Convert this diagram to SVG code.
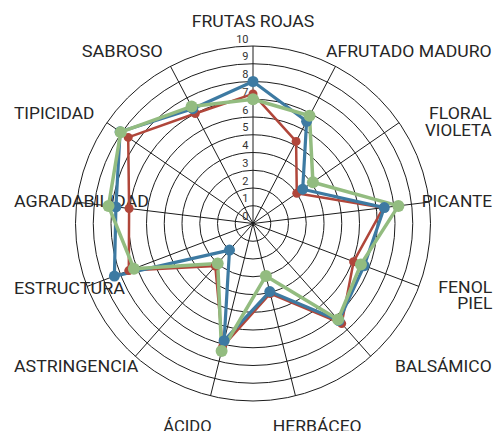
<svg xmlns="http://www.w3.org/2000/svg" width="493" height="431" viewBox="0 0 493 431">
<style>
.ring{fill:none;stroke:#1c1c1c;stroke-width:1}
.axis{stroke:#1c1c1c;stroke-width:1}
.lbl{font-family:Roboto,"Liberation Sans",sans-serif;font-size:16px;fill:#262626}
.tick{font-family:Roboto,"Liberation Sans",sans-serif;font-size:11px;fill:#333;text-anchor:end}
.red{fill:none;stroke:#b0463a;stroke-width:2.5;stroke-linejoin:round}
.blue{fill:none;stroke:#3d7aa2;stroke-width:3.2;stroke-linejoin:round}
.green{fill:none;stroke:#93bc80;stroke-width:3.5;stroke-linejoin:round}
.rd{fill:#b0463a}
.bd{fill:#3d7aa2}
.gd{fill:#93bc80}
</style>
<rect width="493" height="431" fill="#ffffff"/>
<g id="grid">
<circle class="ring" cx="253" cy="223.5" r="17.75"/>
<circle class="ring" cx="253" cy="223.5" r="35.5"/>
<circle class="ring" cx="253" cy="223.5" r="53.25"/>
<circle class="ring" cx="253" cy="223.5" r="71"/>
<circle class="ring" cx="253" cy="223.5" r="88.75"/>
<circle class="ring" cx="253" cy="223.5" r="106.5"/>
<circle class="ring" cx="253" cy="223.5" r="124.25"/>
<circle class="ring" cx="253" cy="223.5" r="142"/>
<circle class="ring" cx="253" cy="223.5" r="159.75"/>
<circle class="ring" cx="253" cy="223.5" r="177.5"/>
</g>
<g id="axes">
<line class="axis" x1="253" y1="223.5" x2="253" y2="46"/>
<line class="axis" x1="253" y1="223.5" x2="335.49" y2="66.33"/>
<line class="axis" x1="253" y1="223.5" x2="399.08" y2="122.67"/>
<line class="axis" x1="253" y1="223.5" x2="429.21" y2="202.1"/>
<line class="axis" x1="253" y1="223.5" x2="418.97" y2="286.44"/>
<line class="axis" x1="253" y1="223.5" x2="370.7" y2="356.36"/>
<line class="axis" x1="253" y1="223.5" x2="295.48" y2="395.84"/>
<line class="axis" x1="253" y1="223.5" x2="210.52" y2="395.84"/>
<line class="axis" x1="253" y1="223.5" x2="135.3" y2="356.36"/>
<line class="axis" x1="253" y1="223.5" x2="87.03" y2="286.44"/>
<line class="axis" x1="253" y1="223.5" x2="76.79" y2="202.1"/>
<line class="axis" x1="253" y1="223.5" x2="106.92" y2="122.67"/>
<line class="axis" x1="253" y1="223.5" x2="170.51" y2="66.33"/>
</g>
<g id="ticks">
<text class="tick" x="248.5" y="220">0</text>
<text class="tick" x="248.5" y="202.3">1</text>
<text class="tick" x="248.5" y="184.5">2</text>
<text class="tick" x="248.5" y="166.8">3</text>
<text class="tick" x="248.5" y="149">4</text>
<text class="tick" x="248.5" y="131.3">5</text>
<text class="tick" x="248.5" y="113.5">6</text>
<text class="tick" x="248.5" y="95.8">7</text>
<text class="tick" x="248.5" y="78">8</text>
<text class="tick" x="248.5" y="60.3">9</text>
<text class="tick" x="248.5" y="42.5">10</text>
</g>
<g id="labels">
<text class="lbl" x="191.7" y="27" textLength="122.6" lengthAdjust="spacingAndGlyphs">FRUTAS ROJAS</text>
<text class="lbl" x="326" y="56.5" textLength="165.7" lengthAdjust="spacingAndGlyphs">AFRUTADO MADURO</text>
<text class="lbl" x="81.7" y="57" textLength="81" lengthAdjust="spacingAndGlyphs">SABROSO</text>
<text class="lbl" x="429" y="119" textLength="62.7" lengthAdjust="spacingAndGlyphs">FLORAL</text>
<text class="lbl" x="425" y="136" textLength="66.7" lengthAdjust="spacingAndGlyphs">VIOLETA</text>
<text class="lbl" x="14" y="119" textLength="80.3" lengthAdjust="spacingAndGlyphs">TIPICIDAD</text>
<text class="lbl" x="421.7" y="206.5" textLength="70.5" lengthAdjust="spacingAndGlyphs">PICANTE</text>
<text class="lbl" x="14" y="207" textLength="135" lengthAdjust="spacingAndGlyphs">AGRADABILIDAD</text>
<text class="lbl" x="438.3" y="293" textLength="54" lengthAdjust="spacingAndGlyphs">FENOL</text>
<text class="lbl" x="457.3" y="309.3" textLength="35" lengthAdjust="spacingAndGlyphs">PIEL</text>
<text class="lbl" x="14" y="293.5" textLength="111" lengthAdjust="spacingAndGlyphs">ESTRUCTURA</text>
<text class="lbl" x="395" y="371.5" textLength="96.7" lengthAdjust="spacingAndGlyphs">BALSÁMICO</text>
<text class="lbl" x="14" y="371.5" textLength="124.3" lengthAdjust="spacingAndGlyphs">ASTRINGENCIA</text>
<text class="lbl" x="163.3" y="431.5" textLength="48.4" lengthAdjust="spacingAndGlyphs">ÁCIDO</text>
<text class="lbl" x="272.7" y="431.5" textLength="89" lengthAdjust="spacingAndGlyphs">HERBÁCEO</text>
</g>
<g id="connectors">
<polygon class="red" points="253,93.9 296.1,141.4 296.8,193.3 383.4,207.7 353.6,261.7 341.7,323.6 270.3,293.5 222.6,346.7 215.3,266 128.8,270.6 129.1,208.5 128.2,137.4 195.3,113.5"/>
<polygon class="blue" points="253,81.5 306.6,121.3 302.7,189.2 384.3,207.6 364.2,265.7 338.9,320.5 269.8,291.6 224.1,340.7 229.5,250.1 114.4,276.1 115.9,206.9 120.1,131.8 192.8,108.7"/>
<polygon class="green" points="253,99.25 309.5,115.8 312.9,182.2 398.4,205.9 360.9,264.4 338.1,319.5 265.9,275.9 221.6,351 217.7,263.4 133.9,268.7 108.5,206 120.7,132.2 191.6,106.4"/>
</g>
<g id="series-red">
<circle class="rd" cx="253" cy="93.9" r="4.5"/>
<circle class="rd" cx="296.1" cy="141.4" r="4.5"/>
<circle class="rd" cx="296.8" cy="193.3" r="4.5"/>
<circle class="rd" cx="383.4" cy="207.7" r="4.5"/>
<circle class="rd" cx="353.6" cy="261.7" r="4.5"/>
<circle class="rd" cx="341.7" cy="323.6" r="4.5"/>
<circle class="rd" cx="270.3" cy="293.5" r="4.5"/>
<circle class="rd" cx="222.6" cy="346.7" r="4.5"/>
<circle class="rd" cx="215.3" cy="266" r="4.5"/>
<circle class="rd" cx="128.8" cy="270.6" r="4.5"/>
<circle class="rd" cx="129.1" cy="208.5" r="4.5"/>
<circle class="rd" cx="128.2" cy="137.4" r="4.5"/>
<circle class="rd" cx="195.3" cy="113.5" r="4.5"/>
</g>
<g id="series-blue">
<circle class="bd" cx="253" cy="81.5" r="5.5"/>
<circle class="bd" cx="306.6" cy="121.3" r="5.5"/>
<circle class="bd" cx="302.7" cy="189.2" r="5.5"/>
<circle class="bd" cx="384.3" cy="207.6" r="5.5"/>
<circle class="bd" cx="364.2" cy="265.7" r="5.5"/>
<circle class="bd" cx="338.9" cy="320.5" r="5.5"/>
<circle class="bd" cx="269.8" cy="291.6" r="5.5"/>
<circle class="bd" cx="224.1" cy="340.7" r="5.5"/>
<circle class="bd" cx="229.5" cy="250.1" r="5.5"/>
<circle class="bd" cx="114.4" cy="276.1" r="5.5"/>
<circle class="bd" cx="115.9" cy="206.9" r="5.5"/>
<circle class="bd" cx="120.1" cy="131.8" r="5.5"/>
<circle class="bd" cx="192.8" cy="108.7" r="5.5"/>
</g>
<g id="series-green">
<circle class="gd" cx="253" cy="99.25" r="6"/>
<circle class="gd" cx="309.5" cy="115.8" r="6"/>
<circle class="gd" cx="312.9" cy="182.2" r="6"/>
<circle class="gd" cx="398.4" cy="205.9" r="6"/>
<circle class="gd" cx="360.9" cy="264.4" r="6"/>
<circle class="gd" cx="338.1" cy="319.5" r="6"/>
<circle class="gd" cx="265.9" cy="275.9" r="6"/>
<circle class="gd" cx="221.6" cy="351" r="6"/>
<circle class="gd" cx="217.7" cy="263.4" r="6"/>
<circle class="gd" cx="133.9" cy="268.7" r="6"/>
<circle class="gd" cx="108.5" cy="206" r="6"/>
<circle class="gd" cx="120.7" cy="132.2" r="6"/>
<circle class="gd" cx="191.6" cy="106.4" r="6"/>
</g>
</svg>
